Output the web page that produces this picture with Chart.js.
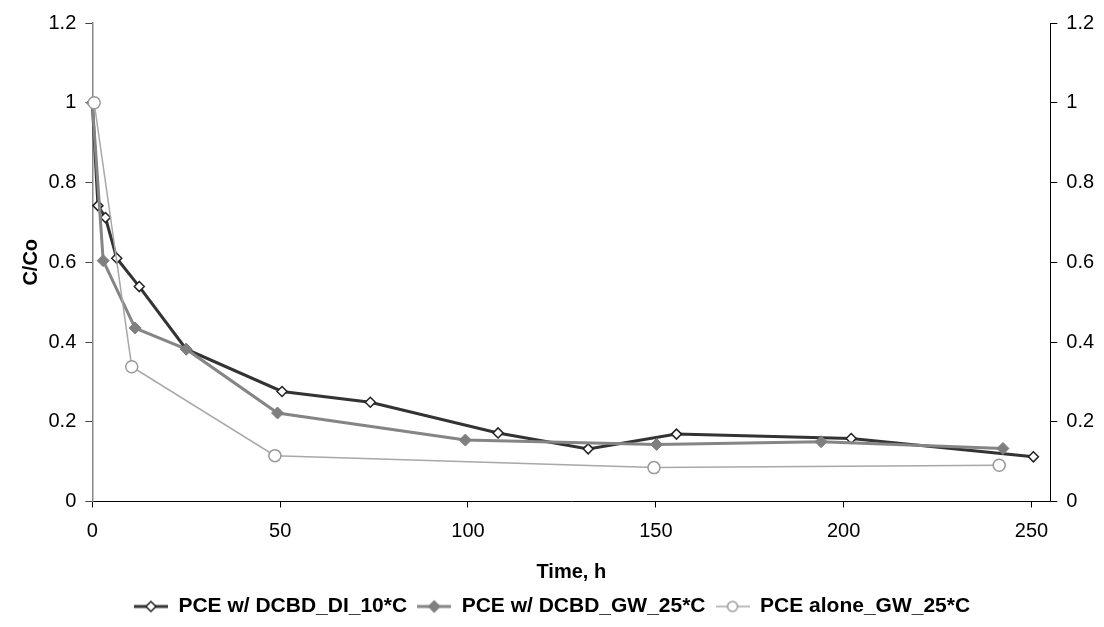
<!DOCTYPE html>
<html lang="en">
<head>
    <meta charset="UTF-8">
    <title>PCE C/Co vs time</title>
    <script src="https://cdn.jsdelivr.net/npm/chart.js"></script>
    <style>
        body { margin: 0; background: #fff; }
    </style>
</head>
<body>
    <canvas id="pceChart" width="1104" height="627"></canvas>
    <script>
        // Sampling times (h) and C/Co for each run
        const diTime = [0, 1.5, 3.5, 6.5, 12.5, 25, 50.5, 74, 108, 132, 155.5, 202, 250.5];
        const diConc = [1.0, 0.742, 0.712, 0.610, 0.539, 0.382, 0.276, 0.249, 0.172, 0.132, 0.169, 0.158, 0.112];

        const gwTime = [0, 2.9, 11.4, 25, 49.3, 99.3, 150.2, 194, 242.4];
        const gwConc = [1.0, 0.604, 0.435, 0.382, 0.222, 0.154, 0.143, 0.150, 0.133];

        const aloneTime = [0.5, 10.5, 48.6, 149.5, 241.4];
        const aloneConc = [1.0, 0.338, 0.115, 0.085, 0.091];

        const seriesNames = ['PCE w/ DCBD_DI_10*C', 'PCE w/ DCBD_GW_25*C', 'PCE alone_GW_25*C'];

        const xTicks = [0, 50, 100, 150, 200, 250];
        const yTicks = [0, 0.2, 0.4, 0.6, 0.8, 1, 1.2];

        const pairs = (xs, ys) => xs.map((x, i) => ({x: x, y: ys[i]}));

        // small line+marker swatch used in the legend
        function swatch(lineColor, lineWidth, style, fill, stroke, r) {
            const c = document.createElement('canvas');
            c.width = 34;
            c.height = 16;
            const g = c.getContext('2d');
            g.strokeStyle = lineColor;
            g.lineWidth = lineWidth;
            g.beginPath();
            g.moveTo(0, 8);
            g.lineTo(34, 8);
            g.stroke();
            g.fillStyle = fill;
            g.strokeStyle = stroke;
            g.lineWidth = 1.5;
            g.beginPath();
            if (style === 'circle') {
                g.arc(17, 8, r, 0, Math.PI * 2);
            } else {
                g.moveTo(17, 8 - r);
                g.lineTo(17 + r, 8);
                g.lineTo(17, 8 + r);
                g.lineTo(17 - r, 8);
                g.closePath();
            }
            g.fill();
            g.stroke();
            return c;
        }

        const legendIcons = [
            swatch('#333333', 3, 'diamond', '#ffffff', '#222222', 5),
            swatch('#858585', 3, 'diamond', '#7f7f7f', '#7f7f7f', 5.5),
            swatch('#a8a8a8', 1.5, 'circle', '#ffffff', '#999999', 5)
        ];

        Chart.defaults.font.family = '"Liberation Sans", Arial, sans-serif';
        Chart.defaults.color = '#000';

        const data = {
            datasets: [{
                label: seriesNames[0],
                data: pairs(diTime, diConc),
                showLine: true,
                borderColor: '#333333',
                borderWidth: 3,
                pointStyle: 'rectRot',
                pointRadius: 5,
                pointBackgroundColor: '#ffffff',
                pointBorderColor: '#222222',
                pointBorderWidth: 1.5,
                clip: false,
                order: 3
            }, {
                label: seriesNames[1],
                data: pairs(gwTime, gwConc),
                showLine: true,
                borderColor: '#858585',
                borderWidth: 3,
                pointStyle: 'rectRot',
                pointRadius: 6,
                pointBackgroundColor: '#7f7f7f',
                pointBorderColor: '#7f7f7f',
                pointBorderWidth: 1,
                clip: false,
                order: 2
            }, {
                label: seriesNames[2],
                data: pairs(aloneTime, aloneConc),
                showLine: true,
                borderColor: '#a8a8a8',
                borderWidth: 1.5,
                pointStyle: 'circle',
                pointRadius: 6,
                pointBackgroundColor: '#ffffff',
                pointBorderColor: '#999999',
                pointBorderWidth: 1.5,
                clip: false,
                order: 1
            }]
        };

        const tickFont = {size: 20};
        const titleFont = {size: 20, weight: 'bold'};
        const fmt = v => String(+v.toFixed(1));
        const fixTicks = list => scale => { scale.ticks = list.map(v => ({value: v})); };

        const config = {
            type: 'scatter',
            data: data,
            options: {
                responsive: false,
                animation: false,
                layout: {padding: {top: 23, left: 0, right: 0, bottom: 0}},
                scales: {
                    x: {
                        type: 'linear',
                        position: 'bottom',
                        min: 0,
                        max: 255,
                        afterBuildTicks: fixTicks(xTicks),
                        afterFit: s => { s.height = 84.5; },
                        ticks: {font: tickFont, padding: 12, callback: fmt, maxRotation: 0},
                        grid: {drawOnChartArea: false, tickLength: 6, color: '#000'},
                        border: {color: '#000', width: 1},
                        title: {display: true, text: 'Time, h', font: titleFont, padding: {top: 0, bottom: 2}}
                    },
                    y: {
                        position: 'left',
                        min: 0,
                        max: 1.2,
                        afterBuildTicks: fixTicks(yTicks),
                        afterFit: s => { s.width = 92.3; },
                        ticks: {font: tickFont, padding: 9, callback: fmt},
                        grid: {drawOnChartArea: false, tickLength: 7, color: '#444'},
                        border: {color: '#888', width: 1.5},
                        title: {display: true, text: 'C/Co', font: titleFont, padding: {top: 19, bottom: 0}}
                    },
                    y2: {
                        position: 'right',
                        min: 0,
                        max: 1.2,
                        afterBuildTicks: fixTicks(yTicks),
                        afterFit: s => { s.width = 53.7; },
                        ticks: {font: tickFont, padding: 9, callback: fmt},
                        grid: {drawOnChartArea: false, tickLength: 7, color: '#000'},
                        border: {color: '#000', width: 1}
                    }
                },
                plugins: {
                    legend: {
                        position: 'bottom',
                        labels: {
                            font: {size: 21, weight: 'bold'},
                            usePointStyle: true,
                            pointStyleWidth: 34,
                            padding: 10,
                            generateLabels: function(chart) {
                                // keep series order (the legend would otherwise follow draw order)
                                const items = Chart.defaults.plugins.legend.labels.generateLabels(chart);
                                items.sort((a, b) => a.datasetIndex - b.datasetIndex);
                                items.forEach(it => { it.pointStyle = legendIcons[it.datasetIndex]; });
                                return items;
                            }
                        }
                    },
                    tooltip: {enabled: false}
                }
            }
        };

        const pceChart = new Chart(document.getElementById('pceChart'), config);
    </script>
</body>
</html>
